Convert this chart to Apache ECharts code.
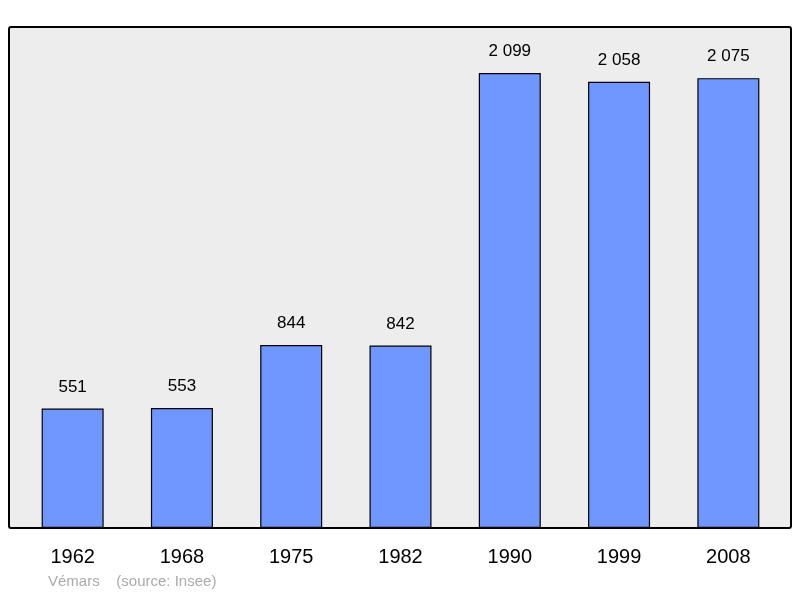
<!DOCTYPE html>
<html><head><meta charset="utf-8">
<script src="https://cdn.jsdelivr.net/npm/echarts@6/dist/echarts.min.js"></script>
<style>html,body{margin:0;padding:0;background:#fff}#c{width:800px;height:598px}</style>
</head><body><div id="c"></div>
<script>
var years = ['1962', '1968', '1975', '1982', '1990', '1999', '2008'];
var population = [551, 553, 844, 842, 2099, 2058, 2075];

var chart = echarts.init(document.getElementById('c'));
chart.setOption({
    animation: false,
    graphic: [
        {type: 'rect', shape: {x: 9, y: 27, width: 782, height: 501, r: 2}, z: -10,
         style: {fill: '#ededed', stroke: '#000', lineWidth: 2}},
        {type: 'text', left: 48, top: 574, z: 10,
         style: {text: 'Vémars    (source: Insee)', fill: '#aaaaaa', font: '15px "Liberation Sans", Arial, sans-serif'}}
    ],
    grid: {left: 18, right: 17, top: 27, bottom: 70},
    xAxis: {
        type: 'category', data: years,
        axisLine: {show: false}, axisTick: {show: false},
        axisLabel: {color: '#000', fontSize: 20, margin: 19, fontFamily: 'Liberation Sans'}
    },
    yAxis: {type: 'value', min: 0, max: 2311, show: false, splitLine: {show: false}},
    series: [{
        type: 'bar', data: population, barWidth: 62,
        itemStyle: {color: '#7096ff', borderColor: '#000', borderWidth: 1.2},
        label: {
            show: true, position: 'top', distance: 13, color: '#000', fontSize: 17,
            fontFamily: 'Liberation Sans',
            formatter: function (p) { return String(p.value).replace(/\B(?=(\d{3})+$)/g, ' '); }
        }
    }]
});
</script></body></html>
